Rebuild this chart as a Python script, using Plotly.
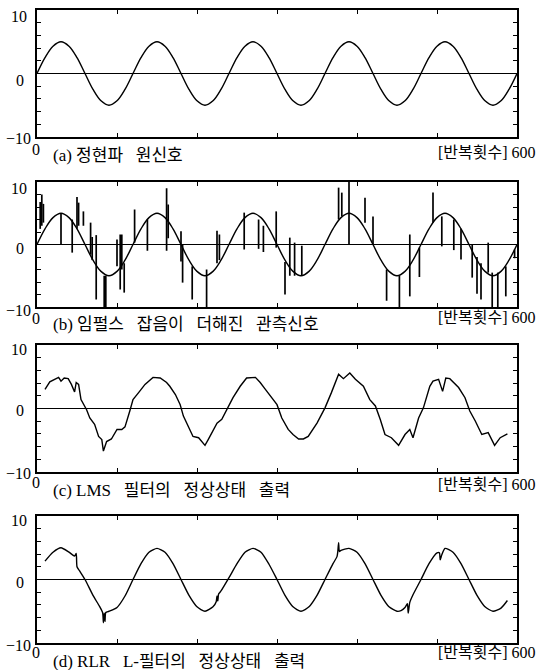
import plotly.graph_objects as go

# ---------------- data ----------------
# (a) source sinusoid, sampled every 10 iterations
source_n = list(range(0, 601, 10))
source_vals = [0, 2.5, 4.3, 5.0, 4.3, 2.5, 0, -2.5, -4.3, -5.0, -4.3, -2.5,
               0, 2.5, 4.3, 5.0, 4.3, 2.5, 0, -2.5, -4.3, -5.0, -4.3, -2.5,
               0, 2.5, 4.3, 5.0, 4.3, 2.5, 0, -2.5, -4.3, -5.0, -4.3, -2.5,
               0, 2.5, 4.3, 5.0, 4.3, 2.5, 0, -2.5, -4.3, -5.0, -4.3, -2.5,
               0, 2.5, 4.3, 5.0, 4.3, 2.5, 0, -2.5, -4.3, -5.0, -4.3, -2.5,
               0]

# (b) impulse noise bursts: iteration, lowest value, highest value
impulse_n = [4, 6, 8, 30, 44, 50, 52, 58, 67, 69, 74, 84, 86, 100, 104, 106, 109,
             122, 138, 162, 164, 180, 182, 194, 212, 225, 228, 259, 277, 283, 299,
             310, 316, 322, 331, 377, 381, 390, 410, 420, 437, 453, 466, 478, 495,
             506, 521, 530, 544, 550, 555, 564, 569, 576, 586, 597]
impulse_lo = [2.5, 3.0, 3.5, 0.0, -1.3, 2.5, 3.0, 3.0, -1.6, -2.5, -8.8, -10, -10,
              -3.5, -7.2, -4.0, -7.7, 0.3, -1.0, -1.0, 1.0, -2.7, -6.1, -8.8, -10,
              -3.0, -2.5, -0.8, -0.7, -1.2, -0.5, -8.0, -5.0, -5.0, -5.0, 4.0, 4.5,
              0.0, 3.5, 0.0, -9.0, -10, -8.3, -5.2, 3.5, -0.3, -0.9, -2.4, -5.3,
              -7.9, -8.8, -4.5, -10, -10, -8.3, -2.2]
impulse_hi = [6.8, 8.0, 6.5, 5.0, 4.0, 7.6, 6.7, 5.3, 3.5, 1.2, 1.5, -5.0, -5.0,
              0.8, 1.6, 1.6, -3.0, 5.6, 4.0, 9.0, 6.4, 2.1, 0.0, -3.5, -4.0,
              2.2, 1.6, 5.1, 4.0, 3.0, 5.3, -2.8, 1.1, 0.3, -0.2, 9.1, 8.3,
              10, 7.5, 4.5, -4.0, -5.0, 1.6, -0.5, 8.3, 4.5, 4.0, 2.5, 0.0,
              -2.0, -3.0, 0.3, -4.5, -4.5, -3.5, -0.8]

# (c) LMS filter steady-state output
lms_n = [10, 16, 27, 30, 34, 39, 43, 47, 49, 52, 55, 59, 62, 66, 72, 77, 81, 83, 87,
         93, 100, 106, 110, 116, 120, 127, 135, 145, 154, 162, 166, 173, 179, 183,
         189, 195, 202, 210, 214, 225, 231, 237, 245, 254, 262, 273, 279, 285, 293,
         300, 306, 314, 320, 327, 333, 339, 350, 360, 368, 377, 383, 391, 398, 408,
         416, 423, 429, 435, 443, 452, 460, 466, 470, 477, 483, 491, 495, 502, 507,
         511, 516, 527, 535, 541, 548, 556, 564, 572, 579, 588]
lms_vals = [3.0, 4.2, 4.9, 4.3, 4.8, 4.7, 3.8, 2.6, 4.1, 3.8, 1.4, 0.6, -0.2, -1.5,
            -2.5, -4.4, -4.9, -6.7, -5.2, -4.8, -3.3, -3.3, -2.9, -0.4, 1.4, 2.5,
            3.8, 4.9, 4.8, 4.1, 3.5, 2.2, 0.6, -1.2, -2.8, -4.4, -4.6, -5.8, -4.9,
            -2.3, -1.7, -0.2, 1.7, 3.5, 4.8, 4.9, 4.1, 3.1, 1.7, 0.6, -1.5, -3.3,
            -4.1, -4.8, -4.8, -4.4, -2.3, 0.1, 2.5, 5.4, 4.7, 5.6, 4.6, 3.5, 1.4,
            0.4, -1.7, -4.1, -4.6, -5.8, -4.1, -3.3, -4.6, -1.5, 0.1, 3.5, 4.3,
            4.6, 2.7, 4.8, 4.7, 3.3, 1.7, -0.4, -2.0, -4.1, -3.8, -5.8, -4.6, -4.0]

# (d) RLR L-filter steady-state output
rlr_n = [10, 20, 30, 40, 47, 49, 50, 53, 60, 70, 78, 82, 83, 84, 85, 86, 90, 100,
         110, 120, 130, 140, 150, 160, 170, 180, 190, 200, 210, 220, 224, 225, 226,
         227, 230, 240, 250, 260, 270, 280, 290, 300, 310, 320, 330, 340, 350, 360,
         370, 375, 376, 377, 378, 380, 390, 400, 410, 420, 430, 440, 450, 455, 460,
         463, 464, 466, 470, 480, 490, 500, 503, 504, 506, 510, 520, 530, 540, 550,
         560, 570, 580, 588]
rlr_vals = [2.9, 4.3, 5.0, 4.3, 3.7, 4.1, 2.0, 1.4, 0.0, -2.5, -4.2, -5.2, -6.8, -5.3,
            -6.6, -5.2, -5.0, -4.4, -2.6, 0.0, 2.5, 4.3, 4.9, 4.3, 2.5, 0.0, -2.5,
            -4.3, -5.0, -4.3, -3.5, -2.6, -3.4, -2.3, -1.8, 0.3, 2.5, 4.3, 4.9, 4.3,
            2.4, 0.0, -2.5, -4.3, -5.0, -4.3, -2.5, 0.0, 2.5, 3.6, 4.4, 5.8, 4.4,
            4.6, 4.9, 4.3, 2.5, 0.0, -2.5, -4.3, -5.0, -4.9, -4.4, -3.8, -5.3, -3.6,
            -2.4, 0.0, 2.5, 4.2, 4.2, 3.1, 3.9, 4.9, 4.3, 2.5, 0.0, -2.5, -4.3, -5.0,
            -4.5, -3.3]

GAP = "\u2002 "
captions = ["(a) 정현파" + GAP + "원신호",
            "(b) 임펄스" + GAP + "잡음이" + GAP + "더해진" + GAP + "관측신호",
            "(c) LMS" + GAP + "필터의" + GAP + "정상상태" + GAP + "출력",
            "(d) RLR" + GAP + "L-필터의" + GAP + "정상상태" + GAP + "출력"]
caption_sizes = [17, 17, 17, 17]
x_unit_label = "[반복횟수] 600"
y_tick_text = ["10", "0", "−10"]
x_tick_text = "0"

# ---------------- layout geometry (pixels) ----------------
W, H = 549, 670
X0, X1 = 37, 517
panels_px = [(10, 137), (182, 307), (345, 472), (516, 643)]  # top, bottom
label_y = [  # "10", "0", "-10", x "0", caption, right text
    (17, 80, 139, 149, 155, 152),
    (188, 248, 310, 318, 325, 317),
    (350, 410, 473, 482, 490, 484),
    (520, 582, 645, 652, 661, 652),
]

def px(x):
    return x / W

def py(y):
    return 1 - y / H

fig = go.Figure()
LINE = dict(color="black", width=1.4)

fig.add_trace(go.Scatter(x=source_n, y=source_vals, mode="lines",
                         line=dict(color="black", width=1.4, shape="spline", smoothing=1.0),
                         xaxis="x", yaxis="y", showlegend=False, hoverinfo="skip"))
fig.add_trace(go.Scatter(x=source_n, y=source_vals, mode="lines",
                         line=dict(color="black", width=1.4, shape="spline", smoothing=1.0),
                         xaxis="x2", yaxis="y2", showlegend=False, hoverinfo="skip"))
sx, sy = [], []
for n, lo, hi in zip(impulse_n, impulse_lo, impulse_hi):
    sx += [n, n, None]
    sy += [lo, hi, None]
fig.add_trace(go.Scatter(x=sx, y=sy, mode="lines", line=dict(color="black", width=1.7),
                         xaxis="x2", yaxis="y2", showlegend=False, hoverinfo="skip",
                         connectgaps=False))
fig.add_trace(go.Scatter(x=lms_n, y=lms_vals, mode="lines", line=LINE,
                         xaxis="x3", yaxis="y3", showlegend=False, hoverinfo="skip"))
fig.add_trace(go.Scatter(x=rlr_n, y=rlr_vals, mode="lines",
                         line=dict(color="black", width=1.4, shape="spline", smoothing=0.6),
                         xaxis="x4", yaxis="y4", showlegend=False, hoverinfo="skip"))

layout = dict(width=W, height=H, margin=dict(l=0, r=0, t=0, b=0),
              paper_bgcolor="white", plot_bgcolor="white", showlegend=False)

annotations = []
FONT = "Liberation Serif, Noto Sans CJK KR, serif"
for i, (top, bot) in enumerate(panels_px):
    k = "" if i == 0 else str(i + 1)
    layout["xaxis" + k] = dict(domain=[px(X0), px(X1)], range=[0, 600],
                               anchor="y" + k, showline=True, linecolor="black",
                               linewidth=1.6, mirror="ticks", ticks="inside",
                               ticklen=4, tickwidth=1, tickcolor="black",
                               tickvals=[100, 200, 300, 400, 500],
                               showticklabels=False, showgrid=False, zeroline=False,
                               fixedrange=True)
    layout["yaxis" + k] = dict(domain=[py(bot), py(top)], range=[-10, 10],
                               anchor="x" + k, showline=True, linecolor="black",
                               linewidth=1.6, mirror="ticks", ticks="inside",
                               ticklen=4, tickwidth=1, tickcolor="black",
                               tickvals=[-8, -6, -4, -2, 2, 4, 6, 8],
                               showticklabels=False, showgrid=False,
                               zeroline=True, zerolinecolor="black", zerolinewidth=1,
                               fixedrange=True)
    ly = label_y[i]
    for txt, yy, xr in zip(y_tick_text, ly[:3], (29, 26, 33)):
        annotations.append(dict(text=txt, x=px(xr), y=py(yy), xref="paper", yref="paper",
                                xanchor="right", yanchor="middle", showarrow=False,
                                font=dict(family=FONT, size=16, color="black")))
    annotations.append(dict(text=x_tick_text, x=px(36), y=py(ly[3]), xref="paper",
                            yref="paper", xanchor="center", yanchor="middle",
                            showarrow=False, font=dict(family=FONT, size=16, color="black")))
    annotations.append(dict(text=captions[i], x=px(51), y=py(ly[4]), xref="paper",
                            yref="paper", xanchor="left", yanchor="middle",
                            showarrow=False,
                            font=dict(family=FONT, size=caption_sizes[i], color="black")))
    annotations.append(dict(text=x_unit_label, x=px(538), y=py(ly[5]), xref="paper",
                            yref="paper", xanchor="right", yanchor="middle",
                            showarrow=False, font=dict(family=FONT, size=16, color="black")))

layout["annotations"] = annotations
fig.update_layout(**layout)
fig.write_html("out.html", config={"displayModeBar": False, "staticPlot": True},
               post_script="document.body.style.margin='0';"
                           "document.body.style.padding='0';"
                           "document.body.style.overflow='hidden';")
